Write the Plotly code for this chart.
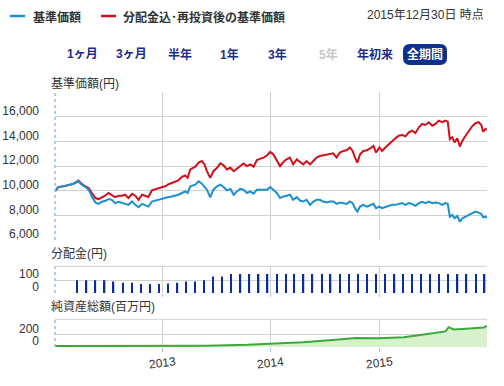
import plotly.graph_objects as go

# ---- data ----
dates = [
    "2012-01-07", "2012-01-18", "2012-02-04", "2012-02-21", "2012-03-09", "2012-03-26",
    "2012-04-06", "2012-04-18", "2012-04-29", "2012-05-10", "2012-05-22", "2012-06-01",
    "2012-06-13", "2012-06-24", "2012-07-05", "2012-07-16", "2012-07-27", "2012-08-08",
    "2012-08-19", "2012-08-30", "2012-09-10", "2012-09-22", "2012-10-03", "2012-10-14",
    "2012-10-26", "2012-11-05", "2012-11-16", "2012-11-28", "2012-12-09", "2012-12-20",
    "2013-01-02", "2013-01-12", "2013-01-23", "2013-02-03", "2013-02-14", "2013-02-25",
    "2013-03-09", "2013-03-20", "2013-03-28", "2013-04-06", "2013-04-23", "2013-05-04",
    "2013-05-15", "2013-05-24", "2013-06-01", "2013-06-12", "2013-06-23", "2013-07-05",
    "2013-07-16", "2013-07-27", "2013-08-07", "2013-08-19", "2013-08-30", "2013-09-10",
    "2013-09-21", "2013-10-02", "2013-10-14", "2013-10-25", "2013-11-05", "2013-11-16",
    "2013-11-28", "2013-12-09", "2013-12-20", "2013-12-31", "2014-01-10", "2014-01-22",
    "2014-02-02", "2014-02-13", "2014-02-24", "2014-03-07", "2014-03-18", "2014-03-30",
    "2014-04-10", "2014-04-21", "2014-05-02", "2014-05-14", "2014-05-25", "2014-06-05",
    "2014-06-16", "2014-06-27", "2014-07-09", "2014-07-20", "2014-07-31", "2014-08-11",
    "2014-08-22", "2014-09-03", "2014-09-14", "2014-09-25", "2014-10-04", "2014-10-12",
    "2014-10-20", "2014-10-29", "2014-11-09", "2014-11-21", "2014-12-02", "2014-12-13",
    "2014-12-22", "2015-01-02", "2015-01-11", "2015-01-22", "2015-02-03", "2015-02-14",
    "2015-02-25", "2015-03-08", "2015-03-20", "2015-03-31", "2015-04-11", "2015-04-22",
    "2015-05-03", "2015-05-15", "2015-05-26", "2015-06-06", "2015-06-17", "2015-06-29",
    "2015-07-10", "2015-07-21", "2015-08-01", "2015-08-12", "2015-08-20", "2015-08-27",
    "2015-09-04", "2015-09-12", "2015-09-21", "2015-09-30", "2015-10-08", "2015-10-19",
    "2015-10-30", "2015-11-10", "2015-11-21", "2015-12-02", "2015-12-11", "2015-12-17",
    "2015-12-25", "2015-12-30",
]

nav = [  # 基準価額
    9970, 10290, 10350, 10450, 10560, 10760,
    10490, 10300, 10080, 9530, 9040, 8930,
    9100, 9180, 9320, 9260, 8990, 9100,
    9040, 8930, 8850, 9120, 8850, 8660,
    8930, 8850, 8710, 9120, 9200, 9260,
    9340, 9400, 9480, 9530, 9590, 9670,
    9810, 9940, 9810, 10350, 10490, 10760,
    10570, 10350, 10080, 9450, 10080, 10350,
    10490, 10300, 10020, 10140, 9670, 9940,
    10140, 10080, 9810, 9940, 9750, 10080,
    10080, 10140, 10080, 10300, 10080, 9810,
    9400, 9530, 9590, 9670, 9260, 9480,
    9200, 9120, 9260, 8850, 9120, 9260,
    9260, 9120, 9040, 9120, 9120, 8930,
    9040, 8990, 8930, 9120, 8990, 8580,
    8300, 8710, 8850, 8710, 8850, 8930,
    8580, 8710, 8580, 8660, 8770, 8850,
    8850, 8930, 8990, 8850, 8990, 8930,
    8770, 8990, 9100, 8990, 9120, 8990,
    9040, 8990, 8850, 8990, 8930, 7890,
    8030, 7760, 7950, 7480, 7760, 7890,
    8030, 8170, 8300, 8220, 8110, 7840,
    7890, 7810,
]

nav_reinvested = [  # 分配金込・再投資後の基準価額
    9970, 10290, 10350, 10450, 10560, 10820,
    10550, 10350, 10220, 9810, 9400, 9320,
    9480, 9590, 9810, 9670, 9480, 9590,
    9590, 9670, 9400, 9750, 9590, 9260,
    9670, 9590, 9480, 10020, 10080, 10190,
    10300, 10350, 10520, 10630, 10680, 10840,
    11120, 11230, 11040, 11720, 11940, 12270,
    12400, 12130, 11580, 11040, 11580, 11860,
    12210, 12050, 11720, 11860, 11580, 11780,
    11940, 12210, 11990, 12130, 11940, 12480,
    12600, 12680, 12870, 13140, 12950, 12480,
    11990, 12320, 12540, 12680, 12130, 12540,
    12320, 12130, 12400, 12130, 12400, 12680,
    12810, 12870, 12920, 12950, 13030, 12680,
    13090, 13220, 13280, 13500, 13220, 12680,
    12270, 12950, 13220, 13280, 13420, 13630,
    13090, 13500, 13220, 13500, 13770, 14040,
    14240, 14450, 14510, 14400, 14730, 14860,
    14670, 15140, 15410, 15330, 15550, 15270,
    15410, 15680, 15550, 15680, 15600, 14180,
    14320, 13910, 14240, 13580, 14040, 14450,
    14860, 15220, 15470, 15550, 15330, 14780,
    15000, 14950,
]

dist_dates = [
    "2012-03-22", "2012-04-22", "2012-05-22", "2012-06-22", "2012-07-22", "2012-08-22",
    "2012-09-22", "2012-10-22", "2012-11-22", "2012-12-22",
    "2013-01-22", "2013-02-22", "2013-03-22", "2013-04-22", "2013-05-22", "2013-06-22",
    "2013-07-22", "2013-08-22", "2013-09-22", "2013-10-22", "2013-11-22", "2013-12-22",
    "2014-01-22", "2014-02-22", "2014-03-22", "2014-04-22", "2014-05-22", "2014-06-22",
    "2014-07-22", "2014-08-22", "2014-09-22", "2014-10-22", "2014-11-22", "2014-12-22",
    "2015-01-22", "2015-02-22", "2015-03-22", "2015-04-22", "2015-05-22", "2015-06-22",
    "2015-07-22", "2015-08-22", "2015-09-22", "2015-10-22", "2015-11-22", "2015-12-22",
]
dist_values = [
    100, 100, 100, 100, 90, 80, 80, 70, 70, 70,
    75, 80, 90, 90, 100, 130, 130, 150, 150, 150, 150, 150,
    150, 150, 150, 150, 150, 150, 150, 150, 150, 150, 150, 150,
    150, 150, 150, 150, 150, 150, 150, 150, 150, 150, 150, 150,
]

asset_dates = [
    "2012-01-07", "2012-06-08", "2012-11-23", "2013-06-01", "2013-10-15", "2013-12-10",
    "2014-01-10", "2014-04-20", "2014-08-08", "2014-10-14", "2015-01-01", "2015-03-25",
    "2015-06-13", "2015-08-12", "2015-08-23", "2015-09-09", "2015-11-15", "2015-12-19",
    "2015-12-30",
]
asset_values = [
    15, 15, 16, 20, 35, 45,
    50, 75, 115, 140, 137, 152,
    205, 245, 312, 277, 297, 308,
    330,
]

year_ticks = ["2013-01-01", "2014-01-01", "2015-01-01"]
year_labels = ["2013", "2014", "2015"]
nav_ticks = [6000, 8000, 10000, 12000, 14000, 16000, 18000]
nav_ticktext = ["6,000", "8,000", "10,000", "12,000", "14,000", "16,000", ""]

# ---- styles ----
GRID = "#cdd2cd"
BLUE = "#1b8fd0"
RED = "#d0101c"
NAVY = "#1d2c84"
TXT = "#333333"
NUMFONT = "Liberation Sans, Noto Sans CJK JP"
JPFONT = "Noto Sans CJK JP"

fig = go.Figure()
fig.add_trace(go.Scatter(x=dates, y=nav_reinvested, mode="lines",
                         line=dict(color=RED, width=2), xaxis="x", yaxis="y",
                         name="分配金込･再投資後の基準価額"))
fig.add_trace(go.Scatter(x=dates, y=nav, mode="lines",
                         line=dict(color=BLUE, width=2), xaxis="x", yaxis="y",
                         name="基準価額"))
fig.add_trace(go.Bar(x=dist_dates, y=dist_values, xaxis="x2", yaxis="y2",
                     marker=dict(color="#0a2d9c", line=dict(width=0)),
                     width=4e8, name="分配金"))
fig.add_trace(go.Scatter(x=asset_dates, y=asset_values, mode="lines",
                         fill="tozeroy", fillcolor="#d9f0cc",
                         line=dict(color="#3aa83a", width=2),
                         xaxis="x3", yaxis="y3", name="純資産総額"))

xcommon = dict(range=["2012-01-07", "2015-12-30"], type="date", showgrid=True,
               gridcolor=GRID, gridwidth=1, tickvals=year_ticks, automargin=False,
               showticklabels=False, zeroline=False, showline=False)
ycommon = dict(showgrid=True, gridcolor=GRID, gridwidth=1, zeroline=False, automargin=False,
               showline=False, ticks="", ticklabelshift=-6, ticklabelstandoff=15,
               tickfont=dict(family=NUMFONT, size=12, color=TXT))

fig.update_layout(
    width=504, height=386,
    margin=dict(l=55, r=17, t=92, b=39),
    paper_bgcolor="white", plot_bgcolor="white",
    showlegend=False,
    font=dict(family=NUMFONT, size=12, color=TXT),
    xaxis=dict(**xcommon, anchor="y", domain=[0, 1]),
    xaxis2=dict(**xcommon, anchor="y2", matches="x", ticks="outside", ticklen=3, tickcolor="#a8c4e0"),
    xaxis3=dict(**xcommon, anchor="y3", matches="x", ticks="outside", ticklen=4, tickcolor="#a8c4e0"),
    yaxis=dict(**ycommon, domain=[0.4196, 1], range=[6000, 18000],
               tickvals=nav_ticks, ticktext=nav_ticktext),
    yaxis2=dict(**ycommon, domain=[0.2118, 0.3165], range=[0, 210],
                tickvals=[0, 100], ticktext=["0", "100"]),
    yaxis3=dict(**ycommon, domain=[0, 0.1086], range=[0, 436],
                tickvals=[0, 200], ticktext=["0", "200"]),
)

shapes = []
for xa, ya in (("x", "y"), ("x2", "y2"), ("x3", "y3")):
    shapes.append(dict(type="line", xref=f"{xa} domain", yref=f"{ya} domain",
                       x0=0, x1=0, y0=0, y1=1,
                       line=dict(color="#9cbde0", width=1.5, dash="dot")))
for xa, ya in (("x2", "y2"), ("x3", "y3")):
    shapes.append(dict(type="line", xref=f"{xa} domain", yref=f"{ya} domain",
                       x0=0, x1=1, y0=1, y1=1, line=dict(color=GRID, width=1)))

# legend markers
shapes.append(dict(type="line", xref="paper", yref="paper", x0=-0.1042, x1=-0.0694,
                   y0=1.298, y1=1.298, line=dict(color=BLUE, width=2.5)))
shapes.append(dict(type="line", xref="paper", yref="paper", x0=0.1065, x1=0.1412,
                   y0=1.298, y1=1.298, line=dict(color=RED, width=2.5)))
# selected period button
shapes.append(dict(type="path", xref="paper", yref="paper", xsizemode="pixel", ysizemode="pixel",
                   xanchor=0.8565, yanchor=1.147,
                   path="M -15,-10.5 L 15,-10.5 Q 22,-10.5 22,-3.5 L 22,3.5 Q 22,10.5 15,10.5 "
                        "L -15,10.5 Q -22,10.5 -22,3.5 L -22,-3.5 Q -22,-10.5 -15,-10.5 Z",
                   fillcolor="#0d2f8f", line=dict(width=0)))

ann = []
def txt(text, x, y, xanchor="left", size=12, color=TXT, bold=False, family=NUMFONT, **kw):
    ann.append(dict(text=f"<b>{text}</b>" if bold else text, x=x, y=y, xref="paper", yref="paper",
                    xanchor=xanchor, yanchor="middle", showarrow=False,
                    font=dict(size=size, color=color, family=family), **kw))

txt("基準価額", -0.0556, 1.298, bold=True, family=JPFONT)
txt("分配金込･再投資後の基準価額", 0.1528, 1.298, bold=True, family=JPFONT)
txt("2015年12月30日 時点", 0.9977, 1.302, xanchor="right")

buttons = [("1ヶ月", 0.0637, NAVY), ("3ヶ月", 0.177, NAVY), ("半年", 0.2894, NAVY),
           ("1年", 0.404, NAVY), ("3年", 0.516, NAVY), ("5年", 0.632, "#c8c8c8"),
           ("年初来", 0.7407, NAVY), ("全期間", 0.8565, "#ffffff")]
for label, bx, col in buttons:
    txt(label, bx, 1.149, xanchor="center", bold=True, color=col, family=NUMFONT)

txt("基準価額(円)", -0.0139, 1.035, family=NUMFONT)
txt("分配金(円)", -0.0139, 0.3647, family=NUMFONT)
txt("純資産総額(百万円)", -0.0139, 0.1569, family=NUMFONT)

for tv, tl in zip(year_ticks, year_labels):
    ann.append(dict(text=tl, x=tv, y=-0.063, xref="x3", yref="paper", showarrow=False,
                    xanchor="center", yanchor="middle", textangle=-7,
                    font=dict(size=12, color=TXT, family=NUMFONT)))

fig.update_layout(shapes=shapes, annotations=ann)
fig.write_html("out.html", config={"displayModeBar": False},
               post_script="document.body.style.margin='0px';")
